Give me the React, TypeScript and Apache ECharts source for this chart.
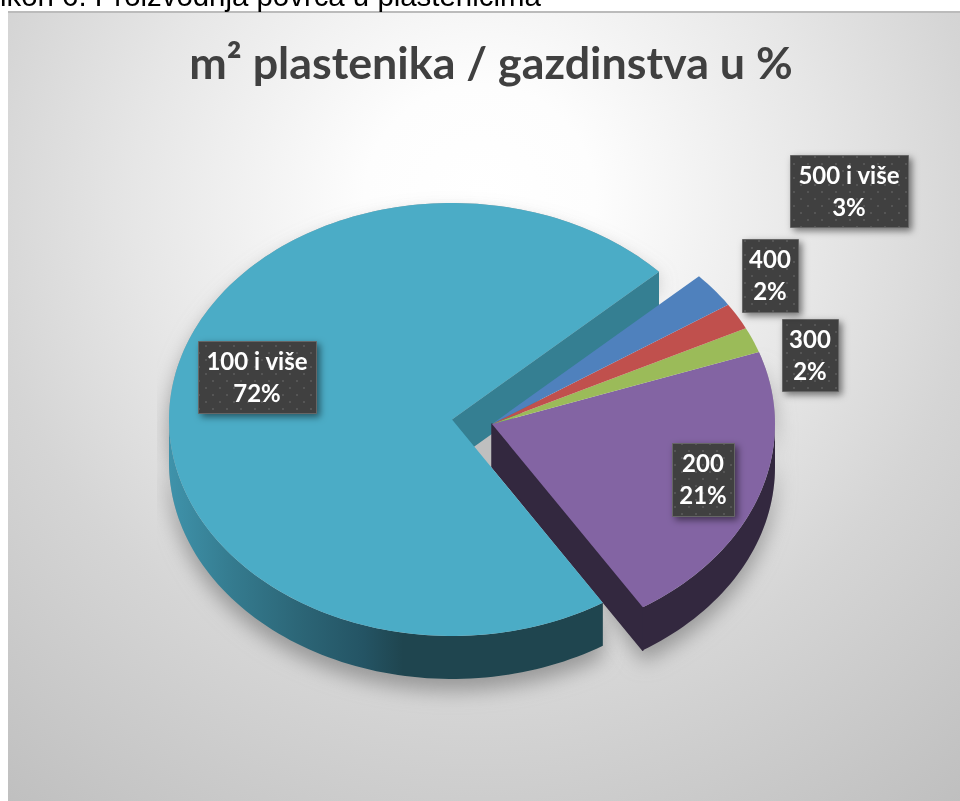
import React, { useEffect, useRef } from "react";
import * as echarts from "echarts";

const CATEGORIES = ["100 i više", "200", "300", "400", "500 i više"];
const VALUES = [72, 21.45, 1.9, 2, 2.65];
const COLORS = ["#4bacc6", "#8364a3", "#9bbb59", "#c0504d", "#4f81bd"];
const CHART_TITLE = "m² plastenika / gazdinstva u %";
const CAPTION = "ikon 6. Proizvodnja povrća u plastenicima";

const START_ANGLE = 43;
const RX = 283;
const RY = 216.5;
const DEPTH = 43;
const MAIN_CENTER = [452, 419.5];
const EXPLODED_CENTER = [492, 424];
const LABEL_BOXES = [
  [198, 341, 118, 72],
  [672, 443, 62, 73],
  [782, 319, 56, 72],
  [742, 239, 56, 73],
  [790, 155, 118, 72],
];

const pt = (c: number[], a: number, dy = 0) => {
  const r = (a * Math.PI) / 180;
  return [c[0] + RX * Math.cos(r), c[1] - RY * Math.sin(r) + dy];
};
const arc = (c: number[], a0: number, a1: number, dy = 0) => {
  const n = Math.max(2, Math.ceil(Math.abs(a1 - a0) / 1.5));
  const out: number[][] = [];
  for (let i = 0; i <= n; i++) out.push(pt(c, a0 + ((a1 - a0) * i) / n, dy));
  return out;
};

function makeDots() {
  const cv = document.createElement("canvas");
  cv.width = 14;
  cv.height = 14;
  const g = cv.getContext("2d")!;
  g.fillStyle = "#404040";
  g.fillRect(0, 0, 14, 14);
  g.fillStyle = "#555555";
  g.fillRect(2, 2, 2, 2);
  g.fillRect(9, 9, 2, 2);
  return cv;
}

export default function App() {
  const ref = useRef<HTMLDivElement>(null);
  useEffect(() => {
    document.body.style.margin = "0";
    document.body.style.overflow = "hidden";
    const chart = echarts.init(ref.current!, undefined, { renderer: "svg" });
    const total = VALUES.reduce((a, b) => a + b, 0);
    const dots = makeDots();

    const renderItem = (params: any, api: any) => {
      const i = params.dataIndex;
      const before = VALUES.slice(0, i).reduce((a, b) => a + b, 0);
      const a0 = START_ANGLE + (before / total) * 360;
      const a1 = a0 + (api.value(1) / total) * 360;
      const c = i === 0 ? MAIN_CENTER : EXPLODED_CENTER;
      const top = [c, ...arc(c, a0, a1)];
      const children: any[] = [];

      if (i <= 1) {
        const points =
          i === 0
            ? [c, ...arc(c, a0, a1), ...arc(c, a1, 180, DEPTH)]
            : [c, ...arc(c, a0, a1), ...arc(c, a1, a0, DEPTH)];
        children.push({
          type: "polygon",
          z2: 1,
          shape: { points },
          style: {
            fill: "#a6a6a6",
            shadowBlur: 20,
            shadowColor: "rgba(145,145,145,0.9)",
            shadowOffsetY: 12,
            shadowOffsetX: 0,
          },
          clipPath: { type: "rect", shape: { x: 157, y: 0, width: 803, height: 801 } },
        });
      }
      if (i === 0) {
        const m = MAIN_CENTER;
        const e = EXPLODED_CENTER;
        children.push({
          type: "polygon",
          z2: 2,
          shape: { points: [m, e, [e[0], e[1] + DEPTH], [m[0], m[1] + DEPTH + 10]] },
          style: { fill: "#bfbfbf" },
        });
        const tip = pt(c, a0);
        children.push({
          type: "polygon",
          z2: 3,
          shape: { points: [c, tip, [tip[0], tip[1] + DEPTH], [c[0], c[1] + DEPTH]] },
          style: { fill: "#357f92" },
        });
        const side = [...arc(c, 180, a1), ...arc(c, a1, 180, DEPTH)];
        children.push({
          type: "polygon",
          z2: 4,
          shape: { points: side },
          style: {
            fill: {
              type: "linear",
              global: true,
              x: 168,
              y: 0,
              x2: 603,
              y2: 0,
              colorStops: [
                { offset: 0, color: "#3f93ab" },
                { offset: 0.14, color: "#357c90" },
                { offset: 0.3, color: "#2c6677" },
                { offset: 0.45, color: "#245464" },
                { offset: 0.54, color: "#1f454f" },
                { offset: 1, color: "#1f454f" },
              ],
            },
          },
        });
      }
      if (i === 1) {
        const tip = pt(c, a0);
        const dark = "#33283f";
        children.push({
          type: "polygon",
          z2: 5,
          shape: { points: [c, tip, [tip[0], tip[1] + DEPTH], [c[0], c[1] + DEPTH]] },
          style: { fill: dark, stroke: dark, lineWidth: 1.5, lineJoin: "round" },
        });
        children.push({
          type: "polygon",
          z2: 5,
          shape: { points: [...arc(c, a0, 360), ...arc(c, 360, a0, DEPTH)] },
          style: { fill: dark },
        });
      }
      children.push({
        type: "polygon",
        z2: i === 0 ? 7 : 8,
        shape: { points: top },
        style: { fill: COLORS[i] },
      });

      const b = LABEL_BOXES[i];
      children.push({
        type: "rect",
        z2: 20,
        shape: { x: b[0] + 0.5, y: b[1] + 0.5, width: b[2], height: b[3] },
        style: {
          fill: { image: dots, repeat: "repeat" },
          stroke: "#666666",
          lineWidth: 1,
          shadowBlur: 7,
          shadowOffsetX: 3,
          shadowOffsetY: 3,
          shadowColor: "rgba(0,0,0,0.5)",
        },
      });
      children.push({
        type: "text",
        z2: 21,
        style: {
          x: b[0] + b[2] / 2,
          y: b[1] + b[3] / 2 - 1,
          text: `${CATEGORIES[i]}\n${Math.round(api.value(1))}%`,
          fill: "#ffffff",
          font: "bold 24px Lato",
          lineHeight: 32,
          align: "center",
          verticalAlign: "middle",
        },
      });
      return { type: "group", children };
    };

    chart.setOption({
      animation: false,
      title: {
        text: CHART_TITLE,
        left: 486,
        top: 34,
        textAlign: "center",
        textStyle: { fontFamily: "Lato", fontWeight: "bold", fontSize: 44.8, color: "#404040" },
      },
      graphic: [
        {
          type: "rect",
          z: -2,
          shape: { x: 8, y: 11, width: 952, height: 790 },
          style: {
            fill: {
              type: "radial",
              global: true,
              x: 480,
              y: 200,
              r: 770,
              colorStops: [
                { offset: 0, color: "#ffffff" },
                { offset: 0.15, color: "#fdfdfd" },
                { offset: 0.45, color: "#e6e6e6" },
                { offset: 0.65, color: "#d5d5d5" },
                { offset: 1, color: "#bfbfbf" },
              ],
            },
          },
        },
        {
          type: "line",
          z: -1,
          shape: { x1: 8, y1: 12, x2: 960, y2: 12 },
          style: { stroke: "#bbbbbb", lineWidth: 2 },
        },
        {
          type: "text",
          z: 5,
          style: {
            x: 0,
            y: 10,
            text: CAPTION,
            fill: "#000000",
            font: "29.4px 'Liberation Sans'",
            align: "left",
            verticalAlign: "bottom",
          },
        },
      ],
      xAxis: { show: false, type: "value", min: 0, max: 1 },
      yAxis: { show: false, type: "value", min: 0, max: 1 },
      grid: { left: 0, right: 0, top: 0, bottom: 0 },
      series: [
        {
          type: "custom",
          coordinateSystem: "none",
          renderItem,
          clip: false,
          encode: { itemName: 0, value: 1 },
          data: CATEGORIES.map((name, i) => [name, VALUES[i]]),
          silent: true,
        },
      ],
    });
    return () => chart.dispose();
  }, []);
  return <div ref={ref} style={{ position: "fixed", left: 0, top: 0, width: 960, height: 801 }} />;
}
